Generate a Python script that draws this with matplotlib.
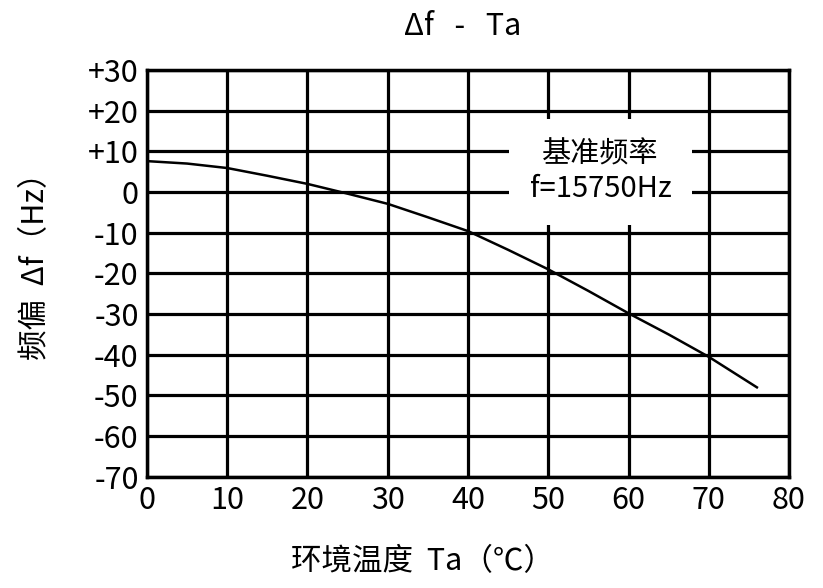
import matplotlib.pyplot as plt
import numpy as np

plt.rcParams['font.family'] = ['Noto Sans CJK SC', 'DejaVu Sans']

# temperature (C) vs frequency deviation (Hz)
ta = [0, 5, 10, 15, 20, 25, 30, 35, 40, 45, 50, 55, 60, 65, 70, 76]
df = [7.6, 7.0, 5.9, 4.0, 2.0, -0.4, -2.9, -6.2, -9.6, -14.2, -19.0, -24.3, -29.8, -35.0, -40.5, -48.0]

x_ticks = np.arange(0, 81, 10)
y_ticks = np.arange(-70, 31, 10)
y_labels = ['+' + str(v) if v > 0 else str(v) for v in y_ticks]

fig = plt.figure(figsize=(8.23, 5.88), dpi=100)
ax = fig.add_axes([0.1786, 0.189, 0.7801, 0.692])

ax.plot(ta, df, color='black', lw=1.8, zorder=3)
ax.set_xlim(0, 80)
ax.set_ylim(-70, 30)
ax.set_xticks(x_ticks)
ax.set_yticks(y_ticks)
ax.set_yticklabels(y_labels)
ax.grid(True, color='black', lw=2.3)
ax.tick_params(length=0, labelsize=22, pad=6)
for s in ax.spines.values():
    s.set_linewidth(2.5)

# white box with the reference frequency note
ax.text(56.5, 5.0, '基准频率\nf=15750Hz', ha='center', va='center', fontsize=21,
        linespacing=1.2, zorder=4,
        bbox=dict(facecolor='white', edgecolor='none', pad=15))

fig.text(0.562, 0.955, 'Δf   -   Ta', ha='center', va='center', fontsize=22)
fig.text(0.513, 0.045, '环境温度  Ta（℃）', ha='center', va='center', fontsize=22)
fig.text(0.043, 0.56, '频偏  Δf（Hz）', ha='center', va='center', fontsize=22, rotation=90)

plt.savefig('out.png')
